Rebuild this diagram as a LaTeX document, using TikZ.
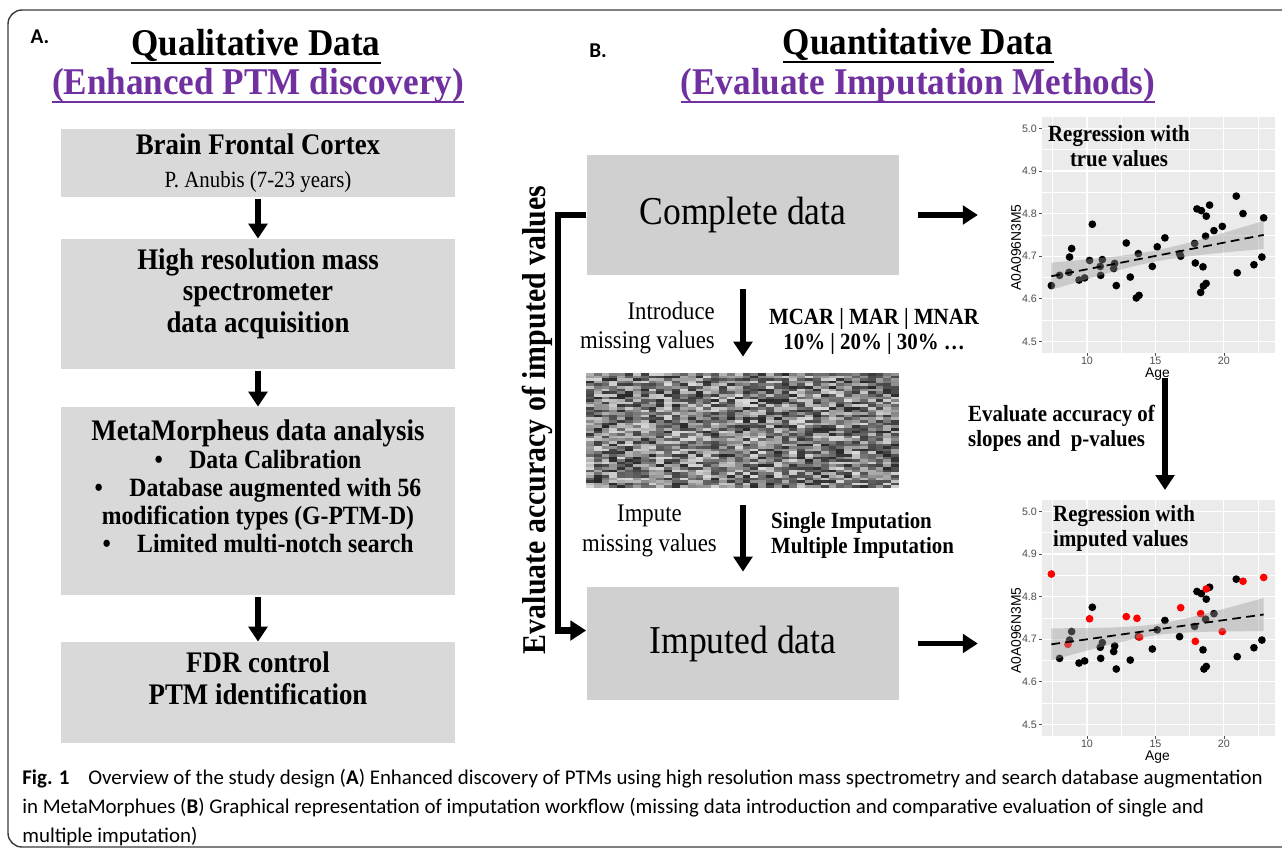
\documentclass[tikz,border=0pt]{standalone}
\usepackage{fontspec}
\setmainfont{Liberation Serif}[FakeStretch=0.9]
\newfontfamily\headfont{Liberation Serif}[FakeStretch=0.93]
\newfontfamily\tagfont{Carlito}
\newfontfamily\capfont{Carlito}
\newfontfamily\plotfont{Liberation Sans}
\usepackage{tikz}
\usetikzlibrary{positioning, arrows.meta}
\definecolor{boxgray}{HTML}{D9D9D9}
\definecolor{midgray}{HTML}{D0D0D0}
\definecolor{titlepurple}{HTML}{7030A0}
\definecolor{panelgray}{HTML}{EBEBEB}
\definecolor{tickgray}{HTML}{4D4D4D}
\definecolor{framegray}{HTML}{3A3A3A}

\begin{document}
\begin{tikzpicture}[x=0.02cm, y=-0.02cm]
    % Stili
    \tikzstyle{leftbox} = [fill=boxgray, minimum width=7.88cm, align=center, inner sep=0pt, font=\bfseries\fontsize{17}{18.5}\selectfont]
    \tikzstyle{midbox} = [fill=midgray, minimum width=6.26cm, minimum height=2.4cm, font=\fontsize{22.5}{24}\selectfont]
    \tikzstyle{fatarrow} = [line width=3pt, -{Triangle[width=10.5pt, length=8.5pt]}]
    \tikzstyle{heading} = [inner sep=0pt, anchor=base, font=\headfont\bfseries\fontsize{21.5}{24}\selectfont]
    \tikzstyle{sidenote} = [font=\fontsize{14.4}{17}\selectfont]
    \tikzstyle{boldnote} = [font=\bfseries\fontsize{13.2}{14.2}\selectfont]
    \tikzstyle{tick} = [font=\plotfont\fontsize{6.1}{7}\selectfont, text=tickgray, inner sep=1pt]
    \tikzstyle{axlabel} = [font=\plotfont\fontsize{7.9}{9}\selectfont, inner sep=0pt]

    \useasboundingbox (0,0) rectangle (1282,852);
    \clip (0,0) rectangle (1282,852);

    % Cornice
    \draw[framegray, line width=0.8pt, rounded corners=0.28cm] (8,10) rectangle (1300,847);

    % Titoli
    \node[font=\tagfont\bfseries\fontsize{12}{14}\selectfont] (tagA) at (40,37) {A.};
    \node[font=\tagfont\bfseries\fontsize{12}{14}\selectfont] (tagB) at (598,51) {B.};
    \node[heading] (qual) at (256,55) {Qualitative Data};
    \node[heading, text=titlepurple] (qualsub) at (258,94) {(Enhanced PTM discovery)};
    \node[heading] (quant) at (918,54) {Quantitative Data};
    \node[heading, text=titlepurple] (quantsub) at (918,94) {(Evaluate Imputation Methods)};
    \draw[line width=1.3pt] ([yshift=-0.16cm]qual.base west) -- ([yshift=-0.16cm]qual.base east);
    \draw[line width=1.3pt, titlepurple] ([yshift=-0.16cm]qualsub.base west) -- ([yshift=-0.16cm]qualsub.base east);
    \draw[line width=1.3pt] ([yshift=-0.16cm]quant.base west) -- ([yshift=-0.16cm]quant.base east);
    \draw[line width=1.3pt, titlepurple] ([yshift=-0.16cm]quantsub.base west) -- ([yshift=-0.16cm]quantsub.base east);

    % Colonna A
    \node[leftbox, minimum height=1.36cm] (cortex) at (258,163) {Brain Frontal Cortex\\[0pt]{\mdseries\fontsize{13.2}{15}\selectfont P. Anubis (7-23 years)}};
    \node[leftbox, minimum height=2.6cm, text depth=15.5pt] (msacq) at (258,304) {High resolution mass\\[-0.5pt]spectrometer\\[-0.5pt]data acquisition};
    \node[leftbox, minimum height=3.76cm, text depth=17pt] (metamorph) at (258,501) {MetaMorpheus data analysis\\[-2.5pt]
        {\fontsize{15}{16.5}\selectfont •\quad Data Calibration}\\[-2.5pt]
        {\fontsize{15}{16.5}\selectfont •\quad Database augmented with 56}\\[-2.5pt]
        {\fontsize{15}{16.5}\selectfont modification types (G-PTM-D)}\\[-2.5pt]
        {\fontsize{15}{16.5}\selectfont •\quad Limited multi-notch search}};
    \node[leftbox, minimum height=2.02cm, text depth=16.5pt] (fdr) at (258,692.5) {FDR control\\PTM identification};

    \draw[fatarrow, shorten <=1pt] (cortex) -- (msacq);
    \draw[fatarrow, shorten <=1pt] (msacq) -- (metamorph);
    \draw[fatarrow, shorten <=1pt] (metamorph) -- (fdr);

    % Colonna B
    \node[midbox] (complete) at (743,215) {Complete data};
    \node[minimum width=6.26cm, minimum height=2.3cm, inner sep=0pt] (missmap) at (743,430.5) {};
    \node[midbox, minimum height=2.26cm] (imputed) at (743,643.5) {Imputed data};

    % matrice con valori mancanti
    \begin{scope}
        \clip (missmap.north west) rectangle (missmap.south east);
        \pgfmathsetseed{42}
        \foreach \i in {0,...,39} {
            \foreach \j in {0,...,43} {
                \pgfmathsetmacro{\g}{int(15+70*rnd)}
                \fill[black!\g] ({586+7.825*\i},{373+2.614*\j}) rectangle ++(8.2,2.8);
            }
        }
    \end{scope}

    \draw[fatarrow, shorten <=0.28cm, shorten >=0.32cm] (complete) -- (missmap);
    \draw[fatarrow, shorten <=0.34cm, shorten >=0.3cm] (missmap) -- (imputed);

    \node[sidenote, align=right, anchor=east] (intro) at (721,328) {Introduce\\missing values};
    \node[boldnote, align=center, anchor=west] (mech) at (763,331) {MCAR | MAR | MNAR\\10\% | 20\% | 30\% …};
    \node[sidenote, align=center, anchor=east] (impute) at (723,531) {Impute\\missing values};
    \node[boldnote, align=left, anchor=west] (methods) at (765,535) {Single Imputation\\Multiple Imputation};

    \draw[line width=3.5pt, -{Triangle[width=11pt, length=9pt]}] (complete.west) -- ++(-28,0) |- ([yshift=0.26cm]imputed.west);
    \node[font=\bfseries\fontsize{18.9}{20}\selectfont, rotate=90] (evalimp) at (537,420) {Evaluate accuracy of imputed values};

    % Grafici di regressione
    \foreach \sy in {2258,2641} {
        \begin{scope}[shift={(950,\sy)}, x=0.274cm, y=8.52cm]
            \fill[panelgray] (6.72,4.472) rectangle (23.72,5.026);
            \foreach \v in {4.55,4.65,4.75,4.85,4.95}
                \draw[white, line width=0.3pt] (6.72,\v) -- (23.72,\v);
            \foreach \a in {7.5,12.5,17.5,22.5}
                \draw[white, line width=0.3pt] (\a,4.472) -- (\a,5.026);
            \foreach \v in {4.5,4.6,4.7,4.8,4.9,5.0} {
                \draw[white, line width=0.6pt] (6.72,\v) -- (23.72,\v);
                \draw[tickgray, line width=0.4pt] (6.72,\v) -- (6.5,\v);
                \node[tick, anchor=east] at (6.5,\v) {\v};
            }
            \foreach \a in {10,15,20} {
                \draw[white, line width=0.6pt] (\a,4.472) -- (\a,5.026);
                \draw[tickgray, line width=0.4pt] (\a,4.472) -- (\a,4.465);
                \node[tick] at (\a,4.455) {\a};
            }
            \node[axlabel] at (15.15,4.4225) {Age};
            \node[axlabel, rotate=90] at (4.82,4.72) {A0A096N3M5};
        \end{scope}
    }

    % valori veri
    \begin{scope}[shift={(950,2258)}, x=0.274cm, y=8.52cm]
        \foreach \a/\v in {7.4/4.631, 8.0/4.655, 8.69/4.662, 8.73/4.698, 8.88/4.718, 9.42/4.644, 9.83/4.649,
            10.19/4.69, 10.39/4.775, 10.97/4.676, 11.0/4.655, 11.12/4.692, 11.95/4.671, 12.02/4.683,
            12.14/4.631, 12.87/4.731, 13.16/4.651, 13.6/4.602, 13.8/4.608, 13.75/4.706, 14.77/4.676,
            15.13/4.722, 15.69/4.743, 16.76/4.706, 16.84/4.70, 17.86/4.73, 17.91/4.684, 18.03/4.811,
            18.35/4.807, 18.3/4.615, 18.5/4.63, 18.7/4.636, 18.47/4.675, 18.66/4.747, 18.71/4.794,
            18.95/4.82, 19.27/4.76, 19.88/4.77, 20.9/4.841, 20.97/4.661, 21.39/4.80, 22.19/4.68,
            22.77/4.698, 22.9/4.79}
            \fill (\a,\v) circle[radius=2.2pt];
        \fill[black!40, fill opacity=0.4]
            plot[domain=7.4:22.9, samples=40] (\x, {4.653+0.00626*(\x-7.4)+0.01*sqrt(1.69+0.148*(\x-15)^2)})
            -- plot[domain=22.9:7.4, samples=40] (\x, {4.653+0.00626*(\x-7.4)-0.01*sqrt(1.69+0.148*(\x-15)^2)})
            -- cycle;
        \draw[line width=1pt, dash pattern=on 5pt off 3pt] (7.4,4.653) -- (22.9,4.75);
    \end{scope}
    \node[boldnote, align=center] (regtrue) at (1119,146) {Regression with\\true values};

    % valori imputati
    \begin{scope}[shift={(950,2641)}, x=0.274cm, y=8.52cm]
        \foreach \a/\v in {8.0/4.655, 8.73/4.698, 8.88/4.718, 9.42/4.644, 9.83/4.649, 10.39/4.775,
            10.97/4.681, 11.0/4.655, 11.12/4.692, 11.95/4.671, 12.02/4.684, 12.14/4.63, 13.16/4.651,
            13.75/4.706, 14.77/4.677, 15.13/4.722, 15.69/4.744, 16.76/4.706, 17.86/4.73, 18.03/4.812,
            18.35/4.807, 18.47/4.675, 18.54/4.63, 18.71/4.636, 18.71/4.794, 18.95/4.822, 18.66/4.747,
            19.27/4.76, 20.9/4.841, 20.97/4.659, 22.19/4.68, 22.77/4.698}
            \fill (\a,\v) circle[radius=2.2pt];
        \foreach \a/\v in {7.4/4.853, 8.61/4.688, 10.19/4.748, 12.87/4.753, 13.65/4.749, 13.84/4.705,
            16.84/4.774, 17.91/4.695, 18.3/4.76, 18.71/4.818, 19.88/4.718, 21.39/4.836, 22.9/4.845}
            \fill[red] (\a,\v) circle[radius=2.2pt];
        \fill[black!40, fill opacity=0.4]
            plot[domain=7.4:22.9, samples=40] (\x, {4.688+0.0045*(\x-7.4)+0.01*sqrt(1.69+0.215*(\x-15)^2)})
            -- plot[domain=22.9:7.4, samples=40] (\x, {4.688+0.0045*(\x-7.4)-0.01*sqrt(1.69+0.215*(\x-15)^2)})
            -- cycle;
        \draw[line width=1pt, dash pattern=on 5pt off 3pt] (7.4,4.688) -- (22.9,4.758);
    \end{scope}
    \node[boldnote, align=left, anchor=west] (regimp) at (1047,528) {Regression with\\imputed values};

    % Frecce verso i grafici
    \draw[fatarrow] ([xshift=0.36cm]complete.east) -- ++(60,0);
    \draw[fatarrow] ([xshift=0.36cm]imputed.east) -- ++(60,0);
    \coordinate (slopetop) at (1165,378);
    \coordinate (slopebot) at (1165,490);
    \draw[fatarrow] (slopetop) -- (slopebot);
    \node[boldnote, align=left, anchor=west] (evalslope) at (962,428) {Evaluate accuracy of\\slopes and\ \ p-values};

    % Didascalia
    \node[font=\capfont\fontsize{11.9}{16.4}\selectfont, align=left, anchor=north west, inner sep=0pt] (caption) at (22,769)
        {\textbf{Fig. 1}\hspace{0.9em}Overview of the study design (\textbf{A}) Enhanced discovery of PTMs using high resolution mass spectrometry and search database augmentation\\
        in MetaMorphues (\textbf{B}) Graphical representation of imputation workflow (missing data introduction and comparative evaluation of single and\\
        multiple imputation)};
\end{tikzpicture}
\end{document}
